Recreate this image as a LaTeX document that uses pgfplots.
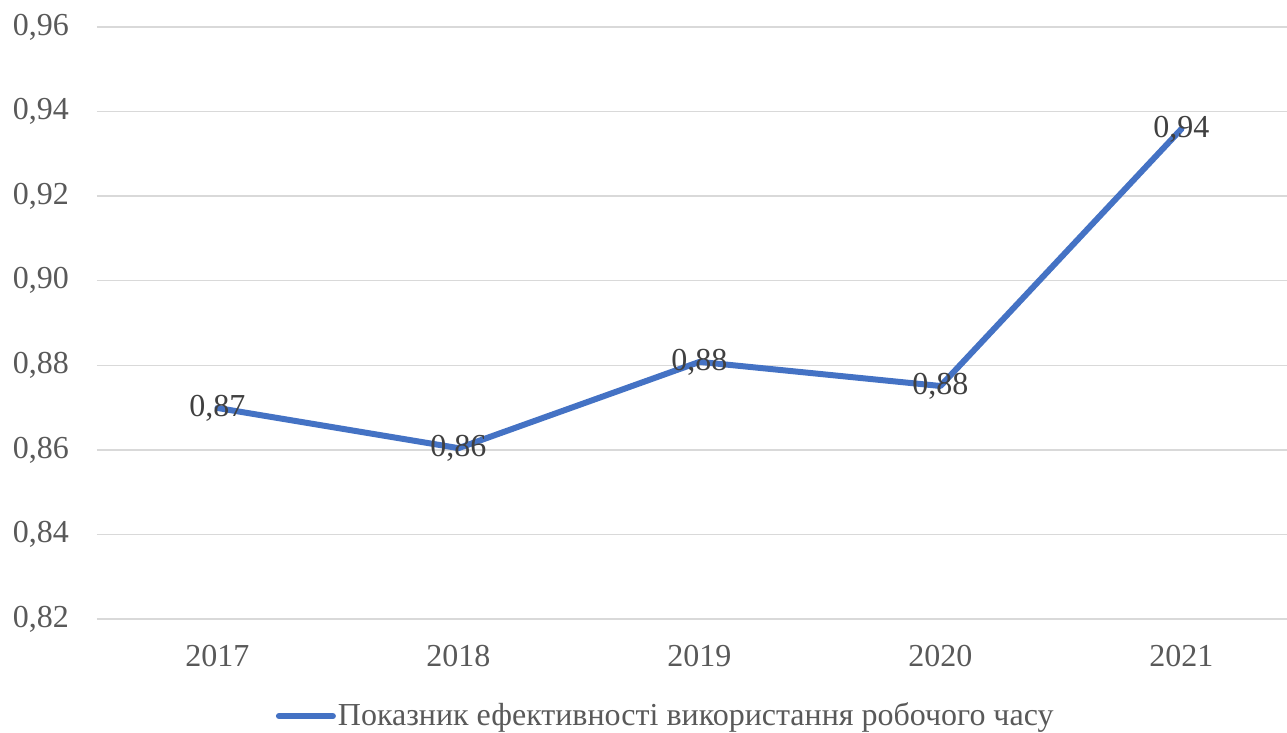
\documentclass[border=0pt]{standalone}
\usepackage{fontspec}
\setmainfont{Liberation Serif}
\usepackage{pgfplots}
\usepackage{pgfplotstable}
\pgfplotsset{compat=1.18}
\definecolor{lineblue}{HTML}{4472C4}
\definecolor{gridgray}{HTML}{D9D9D9}
\definecolor{tickgray}{HTML}{595959}
\definecolor{labelgray}{HTML}{404040}
\pgfplotstableread{
x y lab
0 0.8699 0,87
1 0.8604 0,86
2 0.8808 0,88
3 0.8751 0,88
4 0.9359 0,94
}\datatable
\begin{document}
\fontsize{32bp}{38bp}\selectfont
\begin{tikzpicture}
\begin{axis}[
  scale only axis, width=1205bp, height=592bp,
  xmin=-0.5, xmax=4.5, ymin=0.82, ymax=0.96,
  ytick={0.82,0.84,0.86,0.88,0.90,0.92,0.94,0.96},
  xtick={0,1,2,3,4}, xticklabels={2017,2018,2019,2020,2021},
  axis line style={draw=none}, major tick length=0pt,
  ymajorgrids, grid style={color=gridgray, line width=1.5bp},
  tick label style={font=\fontsize{32bp}{38bp}\selectfont, text=tickgray, inner sep=0pt},
  yticklabel style={anchor=east, xshift=-28bp},
  xticklabel style={anchor=north, yshift=-26bp},
  /pgf/number format/assume math mode=true,
  /pgf/number format/use comma,
  /pgf/number format/fixed,
  /pgf/number format/fixed zerofill,
  /pgf/number format/precision=2,
  scaled y ticks=false,
  clip=false,
  legend style={at={(axis description cs:0.472,-0.164)}, anchor=center, draw=none, fill=none,
    font=\fontsize{32bp}{38bp}\selectfont, text=tickgray, inner sep=0pt, nodes={inner sep=2bp}},
  legend image code/.code={\draw[line width=6bp, lineblue, line cap=round] (0bp,0bp) -- (54bp,0bp);},
]
\addplot[color=lineblue, line width=6bp, line join=round, line cap=round, mark=none,
  point meta=explicit symbolic, nodes near coords,
  every node near coord/.append style={anchor=center, text=labelgray, font=\fontsize{32bp}{38bp}\selectfont}]
  table[x=x, y=y, meta=lab] {\datatable};
\addlegendentry{Показник ефективності використання робочого часу}
\end{axis}
\pgfresetboundingbox
\useasboundingbox (current axis.south west) ++(-97bp,-114bp) rectangle ++(1287bp,733bp);
\end{tikzpicture}
\end{document}
